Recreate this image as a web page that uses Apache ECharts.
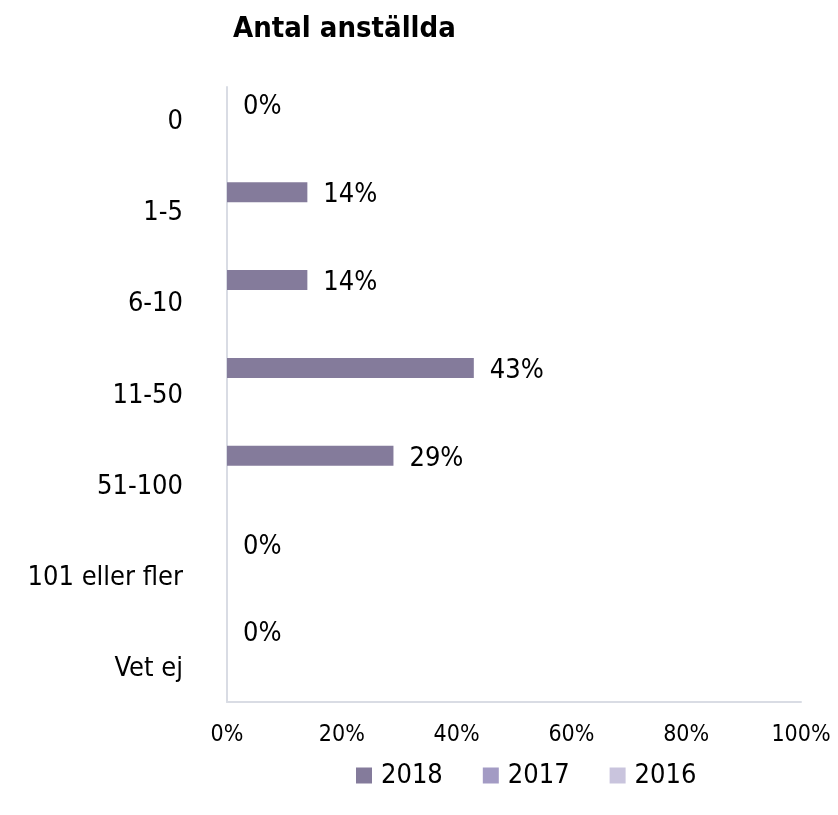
<!DOCTYPE html>
<html>
<head>
<meta charset="utf-8">
<style>
  html, body { margin: 0; padding: 0; background: #ffffff; }
  #chart { width: 838px; height: 815px; }
</style>
<script src="https://cdn.jsdelivr.net/npm/echarts@6/dist/echarts.min.js"></script>
</head>
<body>
<div id="chart"></div>
<script>
// Number of employees, share of respondents (%)
const categories = ['0', '1-5', '6-10', '11-50', '51-100', '101 eller fler', 'Vet ej'];
const values2018 = [0, 14, 14, 43, 29, 0, 0];
const values2017 = [null, null, null, null, null, null, null];
const values2016 = [null, null, null, null, null, null, null];
const xTicks = [0, 20, 40, 60, 80, 100];

const FONT = '"DejaVu Sans Condensed", "DejaVu Sans", sans-serif';
const AXIS_GREY = '#D9DCE4';

const chart = echarts.init(document.getElementById('chart'), null, { renderer: 'canvas' });

chart.setOption({
  animation: false,
  backgroundColor: '#ffffff',
  title: {
    text: 'Antal anställda',
    left: 228,
    top: 10,
    textStyle: { fontFamily: FONT, fontSize: 29, fontWeight: 'bold', color: '#000000' }
  },
  legend: {
    top: 757,
    left: 351,
    itemWidth: 16,
    itemHeight: 16,
    itemGap: 40,
    icon: 'rect',
    textStyle: { fontFamily: FONT, fontSize: 27, color: '#000000', padding: [0, 0, 0, 4] },
    data: ['2018', '2017', '2016']
  },
  grid: [
    // plot area
    { left: 227, right: 37, top: 87, bottom: 113, containLabel: false },
    // category label column, spaced a little wider than the plot bands
    { left: 227, right: 37, top: 76, bottom: 100, containLabel: false }
  ],
  xAxis: [
    {
      type: 'value',
      gridIndex: 0,
      min: xTicks[0],
      max: xTicks[xTicks.length - 1],
      interval: 20,
      axisLine: { show: true, lineStyle: { color: AXIS_GREY, width: 2 } },
      axisTick: { show: false },
      splitLine: { show: false },
      axisLabel: {
        margin: 22,
        fontFamily: FONT,
        fontSize: 23,
        color: '#000000',
        formatter: v => v + '%'
      }
    },
    {
      type: 'value',
      gridIndex: 1,
      show: false
    }
  ],
  yAxis: [
    {
      type: 'category',
      gridIndex: 0,
      inverse: true,
      data: categories,
      axisLine: { show: true, lineStyle: { color: AXIS_GREY, width: 2 } },
      axisTick: { show: false },
      axisLabel: { show: false }
    },
    {
      type: 'category',
      gridIndex: 1,
      inverse: true,
      data: categories,
      axisLine: { show: false },
      axisTick: { show: false },
      splitLine: { show: false },
      axisLabel: {
        margin: 44,
        fontFamily: FONT,
        fontSize: 27,
        color: '#000000'
      }
    }
  ],
  series: [
    {
      name: '2018',
      type: 'bar',
      xAxisIndex: 0,
      yAxisIndex: 0,
      data: values2018,
      barWidth: 20,
      barGap: '33%',
      itemStyle: { color: '#847B9B' },
      label: {
        show: true,
        position: 'right',
        distance: 16,
        offset: [0, 3],
        fontFamily: FONT,
        fontSize: 27,
        color: '#000000',
        formatter: p => p.value + '%'
      }
    },
    {
      name: '2017',
      type: 'bar',
      xAxisIndex: 0,
      yAxisIndex: 0,
      data: values2017,
      barWidth: 20,
      barGap: '33%',
      itemStyle: { color: '#A39BC4' }
    },
    {
      name: '2016',
      type: 'bar',
      xAxisIndex: 0,
      yAxisIndex: 0,
      data: values2016,
      barWidth: 20,
      barGap: '33%',
      itemStyle: { color: '#C9C4DD' }
    }
  ]
});
</script>
</body>
</html>
